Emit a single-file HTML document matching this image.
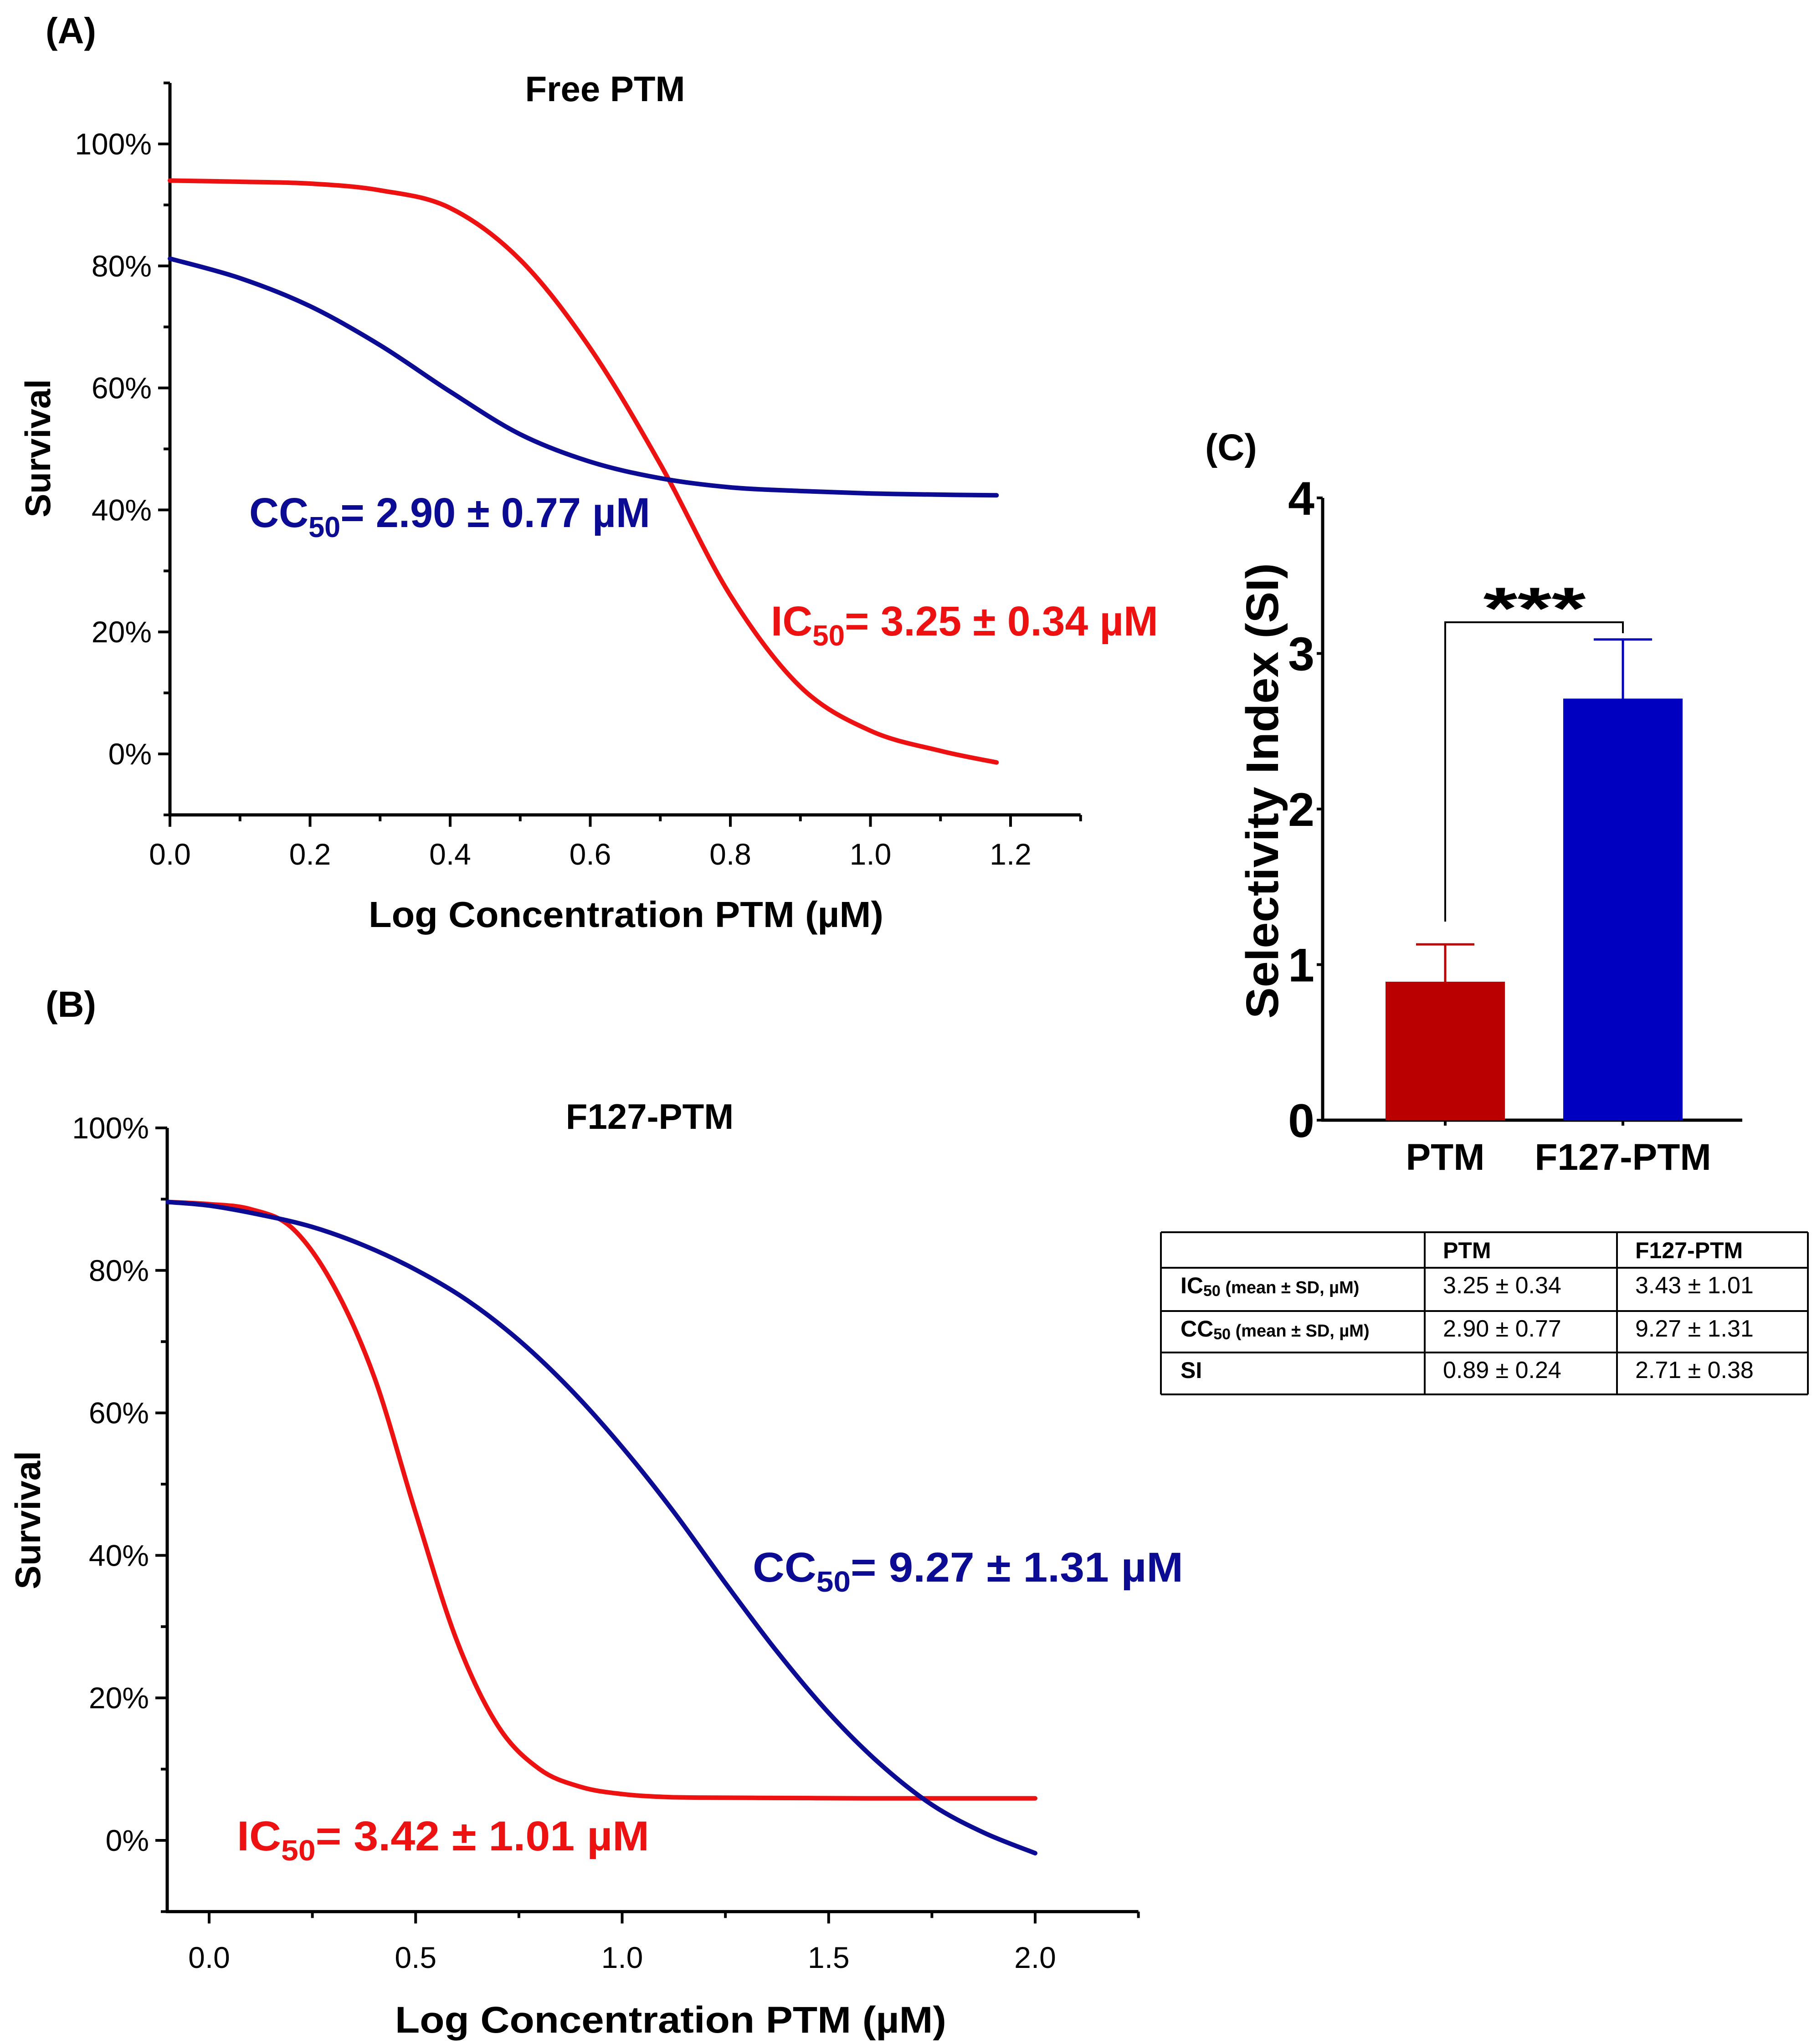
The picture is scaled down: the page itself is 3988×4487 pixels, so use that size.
<!DOCTYPE html>
<html><head><meta charset="utf-8"><style>
html,body{margin:0;padding:0;background:#fff}
svg{display:block;font-family:"Liberation Sans",Arial,sans-serif}
</style></head><body>
<svg id="fig" width="3988" height="4487" viewBox="0 0 3988 4487" xmlns="http://www.w3.org/2000/svg">
<g id="pa"></g>
<g id="pb"></g>
<g id="pc"></g>
<g id="tbl"></g>
</svg>
<script>
// Panel A data
const aX = [0,0.1,0.2,0.3,0.4,0.5,0.6,0.7,0.8,0.9,1.0,1.1,1.18];
const aRed = [94,93.8,93.5,92.4,89.5,81,66.5,47.5,26,11,3.8,0.5,-1.4];
const aBlue = [81.2,78,73.4,67,59.4,52.4,47.9,45.2,43.7,43.1,42.7,42.5,42.4];
const aXTicks = [0,0.2,0.4,0.6,0.8,1.0,1.2];
const aXTickLabels = ["0.0","0.2","0.4","0.6","0.8","1.0","1.2"];
const aYTicks = [0,20,40,60,80,100];
// Panel B data
const bBlueX = [-0.1,0,0.125,0.25,0.375,0.5,0.625,0.75,0.875,1.0,1.125,1.25,1.375,1.5,1.625,1.75,1.875,2.0];
const bBlue = [89.6,89.1,87.8,86.1,83.5,80.1,75.8,70.2,63.3,55.2,46.1,36.1,26.5,17.9,10.7,5,1.1,-1.8];
const bRedX = [-0.1,0,0.1,0.2,0.3,0.4,0.5,0.6,0.7,0.8,0.9,1.0,1.1,1.2,1.4,1.6,1.8,2.0];
const bRed = [89.6,89.3,88.6,86,78,65,46,28,16,10,7.5,6.5,6.1,6.0,5.95,5.9,5.9,5.9];
const bXTicks = [0,0.5,1.0,1.5,2.0];
const bXTickLabels = ["0.0","0.5","1.0","1.5","2.0"];
const bYTicks = [0,20,40,60,80,100];
// Panel C data
const cCats = ["PTM","F127-PTM"];
const cVals = [0.89,2.71];
const cErrs = [0.24,0.38];
const cYTicks = [0,1,2,3,4];

const NS="http://www.w3.org/2000/svg";
function mk(parent,tag,attrs,txt){const e=document.createElementNS(NS,tag);for(const k in attrs)e.setAttribute(k,attrs[k]);if(txt!==undefined)e.textContent=txt;parent.appendChild(e);return e;}
function smooth(pts){let d="M"+pts[0][0]+","+pts[0][1];for(let i=0;i<pts.length-1;i++){const p0=pts[i-1]||pts[i],p1=pts[i],p2=pts[i+1],p3=pts[i+2]||p2;const c1=[p1[0]+(p2[0]-p0[0])/6,p1[1]+(p2[1]-p0[1])/6];const c2=[p2[0]-(p3[0]-p1[0])/6,p2[1]-(p3[1]-p1[1])/6];d+=" C"+c1[0]+","+c1[1]+" "+c2[0]+","+c2[1]+" "+p2[0]+","+p2[1];}return d;}

function curvePanel(g,cfg){
  const sx=v=>cfg.x0+(v-cfg.xv0)*cfg.xs, sy=v=>cfg.y0-v*cfg.ys;
  let e;
  e=mk(g,"line",{x1:cfg.axX,y1:sy(cfg.yTop),x2:cfg.axX,y2:sy(-10),stroke:"#000","stroke-width":7});
  
  
  e=mk(g,"line",{x1:cfg.axX-3,y1:sy(-10),x2:sx(cfg.xEnd),y2:sy(-10),stroke:"#000","stroke-width":7});
  
  
  for(let v=-10;v<=cfg.yTop+0.01;v+=10){const maj=cfg.yTicks.includes(v);
    e=mk(g,"line",{x1:cfg.axX-(maj?26:14),y1:sy(v),x2:cfg.axX,y2:sy(v),stroke:"#000","stroke-width":6});
    
    }
  cfg.yTicks.forEach(v=>{e=mk(g,"text",{x:cfg.axX-40,y:sy(v)+23,"font-size":66,"text-anchor":"end"},v+"%");
    
    });
  for(let v=cfg.minorStart;v<=cfg.xEnd+1e-6;v+=cfg.minorStep){const maj=cfg.xTicks.some(t=>Math.abs(t-v)<1e-6);
    e=mk(g,"line",{x1:sx(v),y1:sy(-10),x2:sx(v),y2:sy(-10)+(maj?26:14),stroke:"#000","stroke-width":6});
    
    }
  cfg.xTicks.forEach((v,i)=>{e=mk(g,"text",{x:sx(v),y:cfg.xLabY,"font-size":66,"text-anchor":"middle"},cfg.xLabels[i]);
    
    });
  cfg.series.forEach(s=>{const pts=s.x.map((v,i)=>[sx(v),sy(s.y[i])]);
    e=mk(g,"path",{d:smooth(pts),fill:"none",stroke:s.c,"stroke-width":10,"stroke-linecap":"round"});
    
    });
}

const red="#ee1111", blue="#0b0b93";
function label(g,x,y,txt,col,len,name,size){
  const t=mk(g,"text",{x:x,y:y,"font-size":size||92,"font-weight":"bold",fill:col,textLength:len,lengthAdjust:"spacingAndGlyphs"});
  const parts=txt.split("|");
  t.appendChild(document.createTextNode(parts[0]));
  mk(t,"tspan",{"font-size":(size||92)*0.7,dy:22},"50");
  mk(t,"tspan",{dy:-22},parts[1]);
  
  
}
function plain(g,x,y,txt,size,name,opts){const a=Object.assign({x:x,y:y,"font-size":size,"font-weight":"bold"},opts||{});const t=mk(g,"text",a,txt);
  
  return t;}

// Panel A
const pa=document.getElementById("pa");
curvePanel(pa,{x0:373,xv0:0,xs:1537.5,y0:1655,ys:13.39,axX:373,yTop:110,xEnd:1.3,yTicks:aYTicks,xTicks:aXTicks,xLabels:aXTickLabels,minorStart:0,minorStep:0.1,xLabY:1898,
 series:[{x:aX,y:aRed,c:red,name:"ic50-curve-free"},{x:aX,y:aBlue,c:blue,name:"cc50-curve-free"}]});
plain(pa,100,95,"(A)",80,"panel-a-label");
plain(pa,1328,222,"Free PTM",78,"panel-a-title",{"text-anchor":"middle"});
plain(pa,1374,2035,"Log Concentration PTM (µM)",80,"x-axis-title",{"text-anchor":"middle",textLength:1130,lengthAdjust:"spacingAndGlyphs"});
plain(pa,0,0,"Survival",78,"y-axis-title",{"text-anchor":"middle",transform:"translate(110,984) rotate(-90)"});
label(pa,547,1157,"CC|= 2.90 ± 0.77 µM",blue,880,"cc50-label-free");
label(pa,1692,1395,"IC|= 3.25 ± 0.34 µM",red,850,"ic50-label-free");

// Panel B
const pb=document.getElementById("pb");
curvePanel(pb,{x0:459,xv0:0,xs:906.5,y0:4040,ys:15.64,axX:367,yTop:100,xEnd:2.25,yTicks:bYTicks,xTicks:bXTicks,xLabels:bXTickLabels,minorStart:0,minorStep:0.25,xLabY:4320,
 series:[{x:bRedX,y:bRed,c:red,name:"ic50-curve-f127"},{x:bBlueX,y:bBlue,c:blue,name:"cc50-curve-f127"}]});
plain(pb,100,2232,"(B)",80,"panel-b-label");
plain(pb,1426,2478,"F127-PTM",78,"panel-b-title",{"text-anchor":"middle"});
plain(pb,1472,4462,"Log Concentration PTM (µM)",82,"x-axis-title-b",{"text-anchor":"middle",textLength:1210,lengthAdjust:"spacingAndGlyphs"});
plain(pb,0,0,"Survival",78,"y-axis-title-b",{"text-anchor":"middle",transform:"translate(88,3337) rotate(-90)"});
label(pb,1652,3472,"CC|= 9.27 ± 1.31 µM",blue,945,"cc50-label-f127");
label(pb,520,4062,"IC|= 3.42 ± 1.01 µM",red,905,"ic50-label-f127");

// Panel C
const pc=document.getElementById("pc");
const cy=v=>2459-v*341.5;
const cx=[3172,3562];
let e;
e=mk(pc,"line",{x1:2903,y1:cy(4),x2:2903,y2:cy(0)+3,stroke:"#000","stroke-width":7});


e=mk(pc,"line",{x1:2900,y1:cy(0),x2:3824,y2:cy(0),stroke:"#000","stroke-width":7});


cYTicks.forEach(v=>{
  e=mk(pc,"line",{x1:2890,y1:cy(v),x2:2903,y2:cy(v),stroke:"#000","stroke-width":6});
  
  
  e=mk(pc,"text",{x:2885,y:cy(v)+37,"font-size":104,"font-weight":"bold","text-anchor":"end"},String(v));
  
  
});
const barCols=["#bb0000","#0000c0"];
cVals.forEach((v,i)=>{
  e=mk(pc,"rect",{x:cx[i]-131,y:cy(v),width:262,height:cy(0)-cy(v),fill:barCols[i]});
  
  
  e=mk(pc,"path",{d:`M${cx[i]},${cy(v)} V${cy(v+cErrs[i])} M${cx[i]-64},${cy(v+cErrs[i])} H${cx[i]+64}`,stroke:barCols[i],"stroke-width":5,fill:"none"});
  
  
  e=mk(pc,"line",{x1:cx[i],y1:cy(0),x2:cx[i],y2:cy(0)+12,stroke:"#000","stroke-width":6});
  
  
  e=mk(pc,"text",{x:cx[i],y:2568,"font-size":82,"font-weight":"bold","text-anchor":"middle"},cCats[i]);
  
  
});
e=mk(pc,"path",{d:`M${cx[0]},${cy(cVals[0]+cErrs[0])-50} V1366 H${cx[1]} V1390`,stroke:"#000","stroke-width":4,fill:"none"});


plain(pc,3368,1380,"***",130,"significance-stars",{"text-anchor":"middle",textLength:225,lengthAdjust:"spacingAndGlyphs"});
plain(pc,2645,1010,"(C)",82,"panel-c-label");
plain(pc,0,0,"Selectivity Index (SI)",100,"c-y-axis-title",{"text-anchor":"middle",transform:"translate(2805,1736) rotate(-90)",textLength:1000,lengthAdjust:"spacingAndGlyphs"});

// Table
const tb=document.getElementById("tbl");
const rowsY=[2705,2783,2878,2969,3061];
const colsX=[2548,3127,3549,3968];
rowsY.forEach(y=>{e=mk(tb,"line",{x1:2548,y1:y,x2:3968,y2:y,stroke:"#000","stroke-width":4});
  
  });
colsX.forEach(x=>{e=mk(tb,"line",{x1:x,y1:2705,x2:x,y2:3061,stroke:"#000","stroke-width":4});
  
  });
plain(tb,3167,2762,"PTM",50,"table-header-ptm");
plain(tb,3589,2762,"F127-PTM",50,"table-header-f127");
const rowLab=[["IC","(mean ± SD, µM)"],["CC","(mean ± SD, µM)"],["SI",""]];
const cellVals=[["3.25 ± 0.34","3.43 ± 1.01"],["2.90 ± 0.77","9.27 ± 1.31"],["0.89 ± 0.24","2.71 ± 0.38"]];
rowLab.forEach((r,i)=>{
  const y=rowsY[i+1]+56;
  const t=mk(tb,"text",{x:2591,y:y,"font-size":50,"font-weight":"bold"});
  t.appendChild(document.createTextNode(r[0]));
  if(r[1]){mk(t,"tspan",{"font-size":34,dy:6},"50");mk(t,"tspan",{"font-size":38,dy:-6}," "+r[1]);}
  
  
  cellVals[i].forEach((v,j)=>{const c=mk(tb,"text",{x:[3167,3589][j],y:y,"font-size":52},v);
    
    });
});
</script>
</body></html>
